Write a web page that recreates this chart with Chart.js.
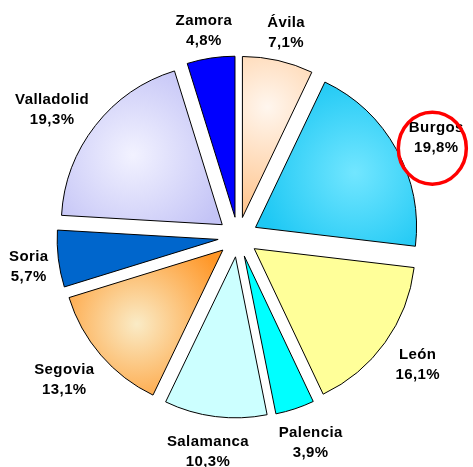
<!DOCTYPE html>
<html>
<head>
<meta charset="utf-8">
<script src="https://cdn.jsdelivr.net/npm/chart.js@4"></script>
<style>
    html, body { margin: 0; padding: 0; background: #ffffff; }
    canvas { display: block; }
</style>
</head>
<body>
<canvas id="PieChart" width="473" height="467"></canvas>
<script>
(function () {
    "use strict";

    // Data
    const provinces = ["Ávila", "Burgos", "León", "Palencia", "Salamanca", "Segovia", "Soria", "Valladolid", "Zamora"];
    const shares = [7.1, 19.8, 16.1, 3.9, 10.3, 13.1, 5.7, 19.3, 4.8];
    const highlighted = "Burgos";

    // Colors (flat fill, or [centre, edge] for the shaded slices)
    const flatColors = ["#FFCC99", "#22CCF6", "#FFFF99", "#00FFFF", "#CCFFFF", "#FF9A2E", "#0066CC", "#C6C6F6", "#0000FF"];
    const shadeColors = [
        ["#FFF6EE", "#FFC894"],
        ["#72E6FF", "#1EC8F4"],
        null,
        null,
        null,
        ["#FAEBC6", "#FF9626"],
        null,
        ["#F2F2FF", "#C4C4F6"],
        null,
    ];

    const RADIUS = 161;
    const EXPLODE = 20;
    const LABEL_GAP = 8;
    const LINE_H = 20;
    const PAD_X = 10;   // label box side padding
    const PAD_TOP = 8;  // label box top padding
    const EDGE = 9;     // keep labels inside the left edge

    function midAngle(i) {
        const total = shares.reduce(function (a, b) { return a + b; }, 0);
        let cum = 0;
        for (let k = 0; k < i; k++) cum += shares[k];
        return -Math.PI / 2 + 2 * Math.PI * (cum + shares[i] / 2) / total;
    }

    // Radial shading like the original's "from centre" fills
    function sliceFill(context) {
        const i = context.dataIndex;
        const shade = shadeColors[i];
        const chart = context.chart;
        const area = chart.chartArea;
        if (!shade || !area) return flatColors[i];
        const cx = (area.left + area.right) / 2;
        const cy = (area.top + area.bottom) / 2;
        const mid = midAngle(i);
        const d = EXPLODE + RADIUS * 0.58;
        const gx = cx + Math.cos(mid) * d;
        const gy = cy + Math.sin(mid) * d;
        const grad = chart.ctx.createRadialGradient(gx, gy, 0, gx, gy, RADIUS * 0.62);
        grad.addColorStop(0, shade[0]);
        grad.addColorStop(1, shade[1]);
        return grad;
    }

    // Pull every slice out along its bisector
    const explodePlugin = {
        id: "explode",
        beforeDatasetsDraw: function (chart) {
            const ctx = chart.ctx;
            chart.getDatasetMeta(0).data.forEach(function (arc) {
                const mid = (arc.startAngle + arc.endAngle) / 2;
                ctx.save();
                ctx.translate(Math.cos(mid) * EXPLODE, Math.sin(mid) * EXPLODE);
                arc.draw(ctx);
                ctx.restore();
            });
            return false;
        },
    };

    // Outside labels: name + percentage, box kept just clear of the slice
    const labelPlugin = {
        id: "sliceLabels",
        afterDraw: function (chart) {
            const ctx = chart.ctx;
            const meta = chart.getDatasetMeta(0);
            ctx.save();
            ctx.font = "bold 15px 'Liberation Sans', Arial, sans-serif";
            ctx.letterSpacing = "0.4px";
            ctx.fillStyle = "#000000";
            ctx.textAlign = "center";
            ctx.textBaseline = "middle";
            meta.data.forEach(function (arc, i) {
                const mid = (arc.startAngle + arc.endAngle) / 2;
                const name = chart.data.labels[i];
                const pct = shares[i].toFixed(1).replace(".", ",") + "%";
                const tw = Math.max(ctx.measureText(name).width, ctx.measureText(pct).width) / 2;
                const hw = tw + PAD_X;
                const hh = LINE_H + PAD_TOP / 2;
                const reach = arc.outerRadius + EXPLODE + LABEL_GAP;
                const dx = Math.cos(mid), dy = Math.sin(mid);
                let x = arc.x + dx * reach + dx * hw;
                const y = arc.y + dy * reach + dy * hh + PAD_TOP / 2;
                x = Math.max(x, EDGE + tw);
                ctx.fillText(name, x, y - LINE_H / 2);
                ctx.fillText(pct, x, y + LINE_H / 2);
                if (name === highlighted) {
                    ctx.beginPath();
                    ctx.lineWidth = 3.5;
                    ctx.strokeStyle = "#FF0000";
                    ctx.ellipse(x - 4, y + 10, 34, 36, 0, 0, 2 * Math.PI);
                    ctx.stroke();
                }
            });
            ctx.restore();
        },
    };

    const canvas = document.getElementById("PieChart");
    new Chart(canvas.getContext("2d"), {
        type: "pie",
        data: {
            labels: provinces,
            datasets: [
                {
                    label: "Castilla y León",
                    data: shares,
                    backgroundColor: sliceFill,
                    borderColor: "#000000",
                    borderWidth: 1,
                    radius: RADIUS,
                },
            ],
        },
        options: {
            responsive: false,
            animation: false,
            layout: {
                padding: { left: 3, top: 7, right: 0, bottom: 0 },
            },
            plugins: {
                legend: { display: false },
                tooltip: { enabled: false },
            },
        },
        plugins: [explodePlugin, labelPlugin],
    });
})();
</script>
</body>
</html>
